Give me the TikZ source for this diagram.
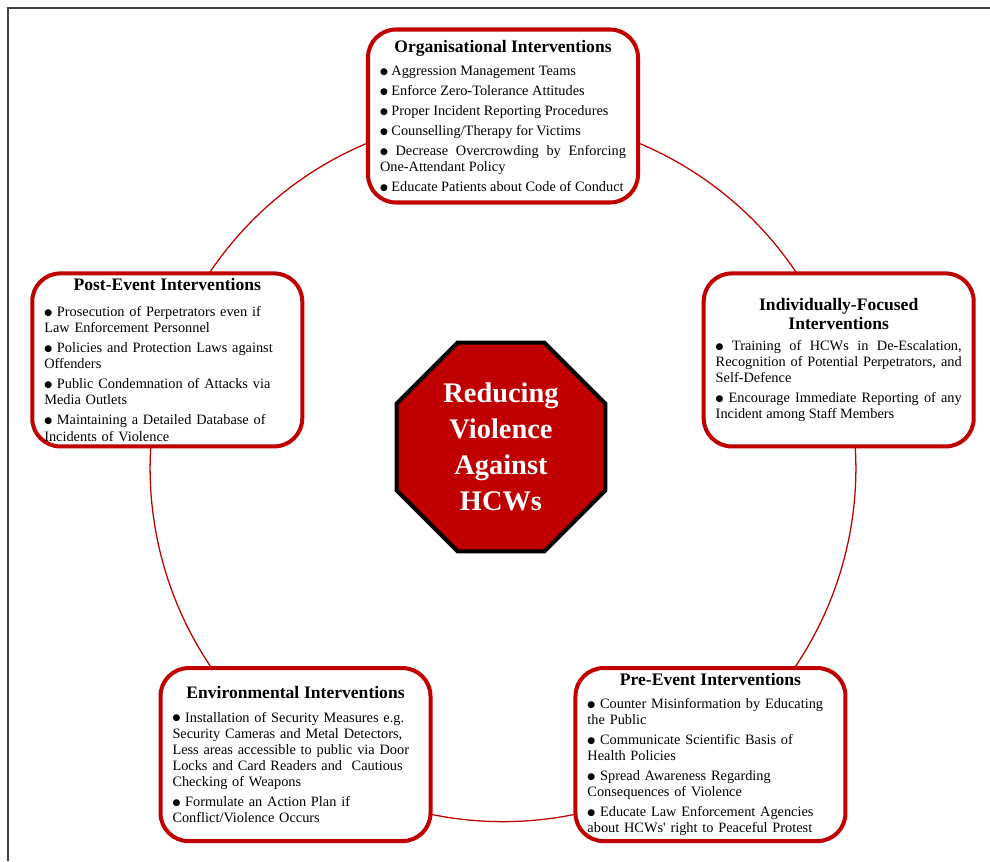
\documentclass[tikz,border=0pt]{standalone}
\usepackage{fontspec}
\setmainfont{Liberation Serif}
\newfontfamily\dotfont{DejaVu Sans}
\usetikzlibrary{shapes.geometric,backgrounds}

\definecolor{hcwred}{RGB}{192,0,0}
\definecolor{framegray}{RGB}{64,64,64}

\newcommand{\headfont}{\fontsize{12.5}{13.9}\selectfont\bfseries}
\newcommand{\bul}{\raisebox{0.8pt}{\dotfont\fontsize{6.4}{6.4}\selectfont ●}\ }

\begin{document}
\begin{tikzpicture}[
  panel/.style={draw=hcwred, line width=2.85pt, fill=white, rounded corners=0.7cm,
    minimum width=6.75cm, minimum height=4.325cm, text width=6.15cm, inner sep=0pt,
    font=\fontsize{10.2}{11.4}\selectfont,
    execute at begin node={\setlength{\parindent}{0pt}\setlength{\parskip}{0.1cm}}},
  stopsign/.style={regular polygon, regular polygon sides=8, draw=black, line width=2.85pt,
    fill=hcwred, text=white, align=center, inner sep=0pt, minimum size=5.655cm,
    font=\fontsize{20.2}{25.6}\selectfont\bfseries},
  ring/.style={draw=hcwred, line width=0.9pt},
  arc/.style={bend left=36, looseness=0.94},
  frame/.style={draw=framegray, line width=1.2pt}
]
\useasboundingbox (-12.575,-9.8) rectangle (12.175,11.725);

% page frame
\draw[frame] (-12.375,-9.8) -- (-12.375,11.525) -- (12.175,11.525);

% centre
\node[stopsign] (hub) at (-0.05,0.55) {Reducing\\Violence\\Against\\HCWs};

% Organisational
\node[panel, align=justify] (org) at (90:8.825) {%
  {\headfont\centering Organisational Interventions\par}\vspace{0.08cm}
  \bul Aggression Management Teams\par
  \bul Enforce Zero-Tolerance Attitudes\par
  \bul Proper Incident Reporting Procedures\par
  \bul Counselling/Therapy for Victims\par
  \bul Decrease Overcrowding by Enforcing\linebreak One-Attendant Policy\par
  \bul Educate Patients about Code of Conduct};

% Individually-Focused
\node[panel, align=justify] (indiv) at (18:8.825) {%
  {\headfont\centering Individually-Focused\linebreak Interventions\par}\vspace{0.02cm}
  \bul Training of HCWs in De-Escalation,\linebreak Recognition of Potential Perpetrators, and\linebreak Self-Defence\par
  \bul Encourage Immediate Reporting of any\linebreak Incident among Staff Members\par
  \vspace{0.55cm}};

% Pre-Event
\node[panel, align=left] (pre) at (-54:8.825) {%
  {\headfont\centering Pre-Event Interventions\par}\vspace{0.08cm}
  \bul Counter Misinformation by Educating\newline the Public\par
  \bul Communicate Scientific Basis of\newline Health Policies\par
  \bul Spread Awareness Regarding\newline Consequences of Violence\par
  \bul Educate Law Enforcement Agencies\newline about HCWs\textquotesingle{} right to Peaceful Protest};

% Environmental
\node[panel, align=left] (env) at (234:8.825) {%
  {\headfont\centering Environmental Interventions\par}\vspace{0.08cm}
  \bul Installation of Security Measures e.g.\newline Security Cameras and Metal Detectors,\newline Less areas accessible to public via Door\newline Locks and Card Readers and\ \ Cautious\newline Checking of Weapons\par
  \bul Formulate an Action Plan if\newline Conflict/Violence Occurs};

% Post-Event
\node[panel, align=left] (post) at (162:8.825) {%
  {\headfont\centering Post-Event Interventions\par}\vspace{0.15cm}
  \bul Prosecution of Perpetrators even if\newline Law Enforcement Personnel\par
  \bul Policies and Protection Laws against\newline Offenders\par
  \bul Public Condemnation of Attacks via\newline Media Outlets\par
  \bul Maintaining a Detailed Database of\newline Incidents of Violence};

% ring behind the boxes
\begin{scope}[on background layer]
  \draw[ring] (org.center) to[arc] (indiv.center) to[arc] (pre.center)
    to[arc] (env.center) to[arc] (post.center) to[arc] (org.center);
\end{scope}

\end{tikzpicture}
\end{document}
